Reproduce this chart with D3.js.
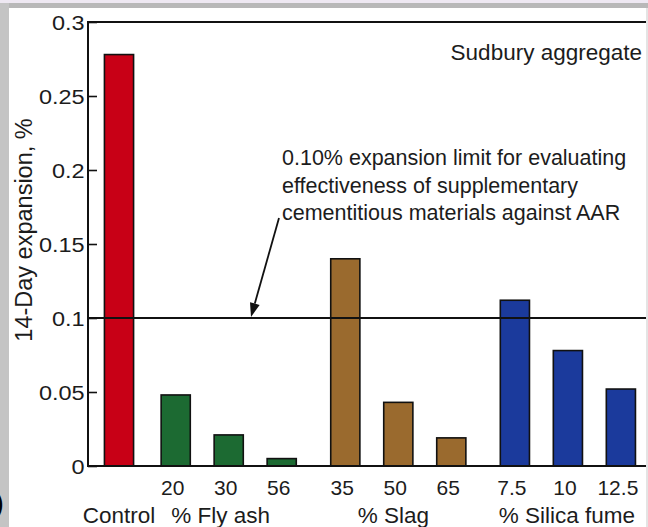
<!DOCTYPE html>
<html>
<head>
<meta charset="utf-8">
<script src="https://cdn.jsdelivr.net/npm/d3@7"></script>
<style>
  html, body { margin: 0; padding: 0; background: #ffffff; }
  svg { display: block; }
  text { font-family: "Liberation Sans", Arial, Helvetica, sans-serif; fill: #1c1c1c; }
</style>
</head>
<body>
<svg id="chart" width="648" height="527"></svg>
<script>
// 14-day expansion of Sudbury aggregate mortar bars with supplementary materials
const groups = ["Control", "% Fly ash", "% Slag", "% Silica fume"];
const groupOf = [0, 1, 1, 1, 2, 2, 2, 3, 3, 3];
const dosageLabels = ["", "20", "30", "56", "35", "50", "65", "7.5", "10", "12.5"];
const expansion = [0.278, 0.048, 0.021, 0.005, 0.140, 0.043, 0.019, 0.112, 0.078, 0.052];
const groupColors = ["#c80016", "#1c6a32", "#9a6a2e", "#1b3a9c"];
const yTicks = [0, 0.05, 0.1, 0.15, 0.2, 0.25, 0.3];
const yTickLabels = ["0", "0.05", "0.1", "0.15", "0.2", "0.25", "0.3"];
const limitValue = 0.10;
const limitNote = [
  "0.10% expansion limit for evaluating",
  "effectiveness of supplementary",
  "cementitious materials against AAR"
];
const panelNote = "Sudbury aggregate";

const svg = d3.select("#chart");
const W = 648, H = 527;
const plot = { left: 88, right: 645, top: 22, bottom: 466 };

// page frame: grey strips along top and left edges
svg.append("rect").attr("x", 0).attr("y", 0).attr("width", W).attr("height", 3).attr("fill", "#eee8f2");
svg.append("rect").attr("x", 0).attr("y", 3).attr("width", W).attr("height", 5).attr("fill", "#b8b8b8");
svg.append("rect").attr("x", 0).attr("y", 3).attr("width", 9).attr("height", H - 3).attr("fill", "#c4c4c4");
svg.append("rect").attr("x", 646).attr("y", 8).attr("width", 2).attr("height", H - 8).attr("fill", "#e4e4e4");
svg.append("text").attr("x", 4).attr("y", 513).attr("text-anchor", "end")
  .style("font-size", "30px").style("fill", "#000").text(")");

// bar slots: one unit per bar, extra spacing between material groups
const gapAfterGroup = [0.07, 0.2, 0.2];
const slots = [];
{
  let cursor = 0;
  expansion.forEach((v, i) => {
    if (i > 0 && groupOf[i] !== groupOf[i - 1]) cursor += gapAfterGroup[groupOf[i - 1]];
    slots.push(cursor);
    cursor += 1;
  });
}
const x = d3.scaleLinear().domain([-0.585, 9.925]).range([plot.left, plot.right]);
const y = d3.scaleLinear().domain([0, 0.3]).range([plot.bottom, plot.top]);
const barW = x(0.55) - x(0);

// bars
svg.append("g").selectAll("rect").data(expansion).join("rect")
  .attr("x", (d, i) => x(slots[i]) - barW / 2)
  .attr("y", d => y(d))
  .attr("width", barW)
  .attr("height", d => y(0) - y(d))
  .attr("fill", (d, i) => groupColors[groupOf[i]])
  .attr("stroke", "#111")
  .attr("stroke-width", 1.6);

// y axis with inward ticks
const yAxis = d3.axisRight(y).tickValues(yTicks).tickSize(9).tickFormat((d, i) => yTickLabels[i]);
const gy = svg.append("g").attr("transform", `translate(${plot.left},0)`).call(yAxis);
gy.select(".domain").remove();
gy.selectAll(".tick line").attr("stroke", "#111").attr("stroke-width", 1.6);
gy.selectAll(".tick text")
  .attr("x", -3).attr("dy", "0.36em")
  .attr("text-anchor", "end")
  .attr("transform", "scale(1.12,1)")
  .style("font-size", "21px");

// frame lines: left axis, top border, baseline
svg.append("line").attr("x1", plot.left).attr("x2", plot.left).attr("y1", plot.top - 1).attr("y2", plot.bottom + 1)
  .attr("stroke", "#111").attr("stroke-width", 2);
svg.append("line").attr("x1", plot.left - 1).attr("x2", plot.right + 1).attr("y1", plot.top).attr("y2", plot.top)
  .attr("stroke", "#111").attr("stroke-width", 2);
svg.append("line").attr("x1", plot.left - 1).attr("x2", plot.right + 1).attr("y1", y(0)).attr("y2", y(0))
  .attr("stroke", "#111").attr("stroke-width", 2);

// x labels: dosages and material groups
svg.append("g").selectAll("text").data(dosageLabels).join("text")
  .attr("x", (d, i) => x(slots[i]) - 3)
  .attr("y", 495)
  .attr("text-anchor", "middle")
  .style("font-size", "21px")
  .text(d => d);

const groupCenters = groups.map((g, gi) => {
  const idx = groupOf.map((v, i) => v === gi ? i : -1).filter(i => i >= 0);
  return d3.mean(idx, i => x(slots[i]));
});
const groupShift = [0, -8, -5, -1];
svg.append("g").selectAll("text").data(groups).join("text")
  .attr("x", (d, i) => groupCenters[i] + groupShift[i])
  .attr("y", 523)
  .attr("text-anchor", "middle")
  .style("font-size", "22.5px")
  .text(d => d);

// y axis title
svg.append("text")
  .attr("transform", "translate(32,230) rotate(-90)")
  .attr("text-anchor", "middle")
  .style("font-size", "23.5px")
  .text("14-Day expansion, %");

// 0.10% limit line
svg.append("line").attr("x1", plot.left).attr("x2", plot.right + 1)
  .attr("y1", y(limitValue)).attr("y2", y(limitValue))
  .attr("stroke", "#111").attr("stroke-width", 1.8);

// annotation text
svg.append("g").selectAll("text").data(limitNote).join("text")
  .attr("x", 282)
  .attr("y", (d, i) => 165 + i * 27.5)
  .style("font-size", "21.5px")
  .text(d => d);

svg.append("text")
  .attr("x", 642).attr("y", 60)
  .attr("text-anchor", "end")
  .style("font-size", "22.5px")
  .text(panelNote);

// arrow pointing at the limit line
const tip = [251, y(limitValue) - 1];
const tail = [279, 218];
const ang = Math.atan2(tip[1] - tail[1], tip[0] - tail[0]);
const headLen = 14, headHalf = 5;
const base = [tip[0] - headLen * Math.cos(ang), tip[1] - headLen * Math.sin(ang)];
svg.append("line")
  .attr("x1", tail[0]).attr("y1", tail[1]).attr("x2", base[0]).attr("y2", base[1])
  .attr("stroke", "#111").attr("stroke-width", 1.8);
svg.append("path")
  .attr("d", d3.line()([
    tip,
    [base[0] + headHalf * Math.sin(ang), base[1] - headHalf * Math.cos(ang)],
    [base[0] - headHalf * Math.sin(ang), base[1] + headHalf * Math.cos(ang)]
  ]) + "Z")
  .attr("fill", "#111");
</script>
</body>
</html>
